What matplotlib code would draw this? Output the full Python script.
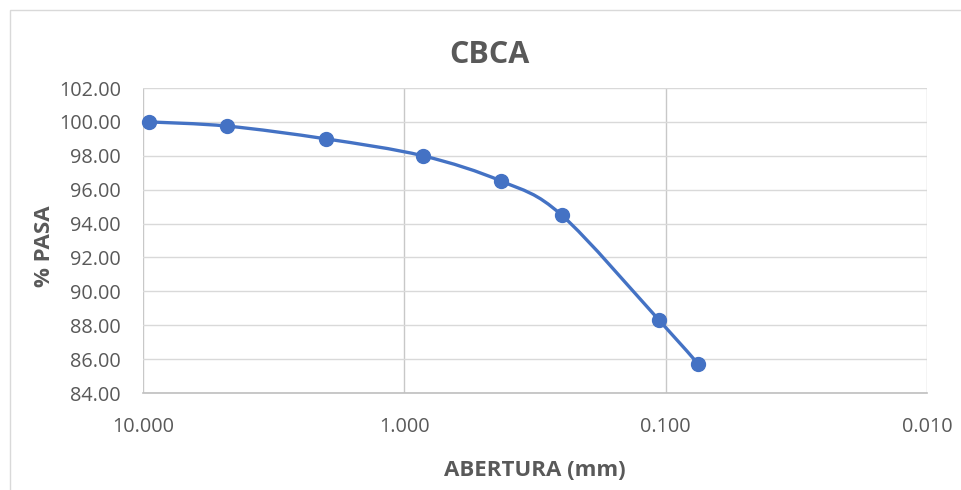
import numpy as np
import matplotlib
matplotlib.use("Agg")
import matplotlib.pyplot as plt
from matplotlib.path import Path
from matplotlib.patches import PathPatch, Rectangle
from matplotlib.ticker import FixedLocator, FuncFormatter, NullLocator

# Data
abertura_mm = [9.5, 4.75, 2.0, 0.85, 0.425, 0.25, 0.106, 0.075]
pasa_pct = [100.00, 99.75, 99.00, 98.00, 96.50, 94.50, 88.30, 85.70]
x_ticks = [10.0, 1.0, 0.1, 0.01]
y_ticks = [84, 86, 88, 90, 92, 94, 96, 98, 100, 102]
title = "CBCA"
xlabel = "ABERTURA (mm)"
ylabel = "% PASA"

W, H = 961, 490
plt.rcParams['font.family'] = ['Open Sans', 'DejaVu Sans']
fig = plt.figure(figsize=(W / 100, H / 100), dpi=100)
fig.patch.set_facecolor('white')

# chart-area border (top and left visible)
fig.patches.append(Rectangle((10 / W, -0.1), 1.2, (H - 10) / H + 0.1,
                             transform=fig.transFigure, fill=False,
                             edgecolor='#d9d9d9', lw=1.0))

L, R, T, B = 143, 927, 88, 393
ax = fig.add_axes([L / W, (H - B) / H, (R - L) / W, (B - T) / H])
ax.set_xscale('log')
ax.set_xlim(10, 0.01)
ax.set_ylim(84, 102)
ax.xaxis.set_major_locator(FixedLocator(x_ticks))
ax.xaxis.set_minor_locator(NullLocator())
ax.yaxis.set_major_locator(FixedLocator(y_ticks))
ax.xaxis.set_major_formatter(FuncFormatter(lambda v, p: f"{v:.3f}"))
ax.yaxis.set_major_formatter(FuncFormatter(lambda v, p: f"{v:.2f}"))
ax.tick_params(axis='both', length=0, labelsize=14.3, labelcolor='#595959')
ax.tick_params(axis='x', pad=17)
ax.tick_params(axis='y', pad=16)

for s in ['top', 'right', 'left']:
    ax.spines[s].set_visible(False)
ax.spines['bottom'].set_color('#bfbfbf')
ax.spines['bottom'].set_linewidth(1.2)

ax.grid(axis='y', color='#d9d9d9', lw=1.0)
ax.grid(axis='x', color='#c8c8c8', lw=1.0)
ax.set_axisbelow(True)

# Excel-style smoothed line (Bezier through the points in log-x space)
lx = np.log10(abertura_mm)
yy = np.array(pasa_pct, dtype=float)
n = len(lx)
verts = [(lx[0], yy[0])]
codes = [Path.MOVETO]
for i in range(n - 1):
    p0 = np.array([lx[max(i - 1, 0)], yy[max(i - 1, 0)]])
    p1 = np.array([lx[i], yy[i]])
    p2 = np.array([lx[i + 1], yy[i + 1]])
    p3 = np.array([lx[min(i + 2, n - 1)], yy[min(i + 2, n - 1)]])
    c1 = p1 + (p2 - p0) / 6.0
    c2 = p2 - (p3 - p1) / 6.0
    verts += [tuple(c1), tuple(c2), tuple(p2)]
    codes += [Path.CURVE4] * 3
verts = np.array(verts)
verts[:, 0] = 10 ** verts[:, 0]
patch = PathPatch(Path(verts, codes), fill=False, edgecolor='#4472C4',
                  lw=2.4, capstyle='round', joinstyle='round', zorder=3)
ax.add_patch(patch)
ax.plot(abertura_mm, pasa_pct, linestyle='none', marker='o', markersize=10,
        color='#4472C4', zorder=4, clip_on=False)

fig.text(489 / W, 1 - 55 / H, title, ha='center', va='center',
         fontsize=22, fontweight='bold', color='#595959')
fig.text(535 / W, 1 - 470 / H, xlabel, ha='center', va='center',
         fontsize=16, fontweight='bold', color='#595959')
fig.text(45 / W, 1 - 246 / H, ylabel, ha='center', va='center',
         rotation=90, fontsize=16, fontweight='bold', color='#595959')

fig.savefig('out.png', dpi=100, facecolor='white')
